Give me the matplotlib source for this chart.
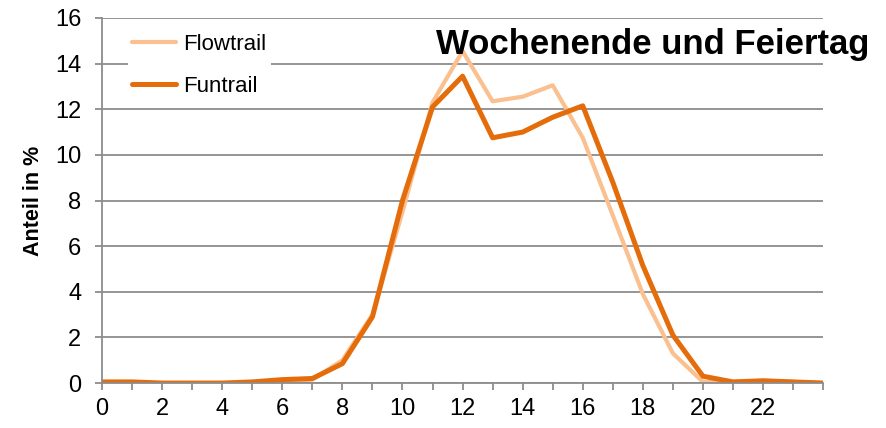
import matplotlib
matplotlib.use("Agg")
import matplotlib.pyplot as plt

# Stunden und Anteile (Wochenende und Feiertag)
stunden = list(range(25))
flowtrail = [0.0, 0.0, 0.0, 0.0, 0.0, 0.0, 0.1, 0.15, 1.0, 3.0, 7.5, 12.3, 14.55,
             12.35, 12.55, 13.05, 10.75, 7.35, 3.9, 1.3, 0.05, 0.05, 0.1, 0.05, 0.0]
funtrail = [0.05, 0.05, 0.0, 0.0, 0.0, 0.05, 0.15, 0.2, 0.85, 2.9, 8.0, 12.1, 13.45,
            10.75, 11.0, 11.65, 12.15, 8.8, 5.15, 2.1, 0.3, 0.05, 0.1, 0.05, 0.0]
xticklabels = [str(h) if h % 2 == 0 and h < 24 else "" for h in stunden]

plt.rcParams['font.family'] = ['Liberation Sans Narrow', 'Liberation Sans', 'DejaVu Sans']

fig = plt.figure(figsize=(8.87, 4.28), dpi=100)
ax = fig.add_axes([0.115, 0.105, 0.813, 0.853])

grau = '#8c8c8c'
ax.plot(stunden, flowtrail, color='#fac090', lw=3.0, label='Flowtrail', solid_capstyle='round')
ax.plot(stunden, funtrail, color='#e46c0a', lw=3.6, label='Funtrail', solid_capstyle='round')

ax.set_xlim(0, 24)
ax.set_ylim(0, 16)
ax.set_yticks(range(0, 17, 2))
ax.set_xticks(stunden)
ax.set_xticklabels(xticklabels)
ax.yaxis.grid(True, color=grau, lw=1.3)
ax.set_axisbelow(True)
for s in ['top', 'right']:
    ax.spines[s].set_visible(False)
for s in ['left', 'bottom']:
    ax.spines[s].set_color(grau)
    ax.spines[s].set_linewidth(1.3)
ax.tick_params(axis='both', colors=grau, length=5, width=1.3, labelsize=17,
               labelcolor='black')
ax.tick_params(axis='y', pad=10)
ax.tick_params(axis='x', pad=6)

ax.set_ylabel('Anteil in %', fontsize=15.5, fontweight='bold', labelpad=8)

leg = ax.legend(loc='upper left', bbox_to_anchor=(0.02, 1.0), frameon=True, fontsize=16,
                handlelength=2.0, handletextpad=0.3, labelspacing=0.95, borderpad=0.2)
leg.get_frame().set_edgecolor('none')
leg.get_frame().set_facecolor('white')
leg.get_frame().set_alpha(1)

fig.text(0.98, 0.897, 'Wochenende und Feiertag', ha='right', va='center',
         fontsize=25, fontweight='bold')

fig.savefig('out.png', dpi=100)
